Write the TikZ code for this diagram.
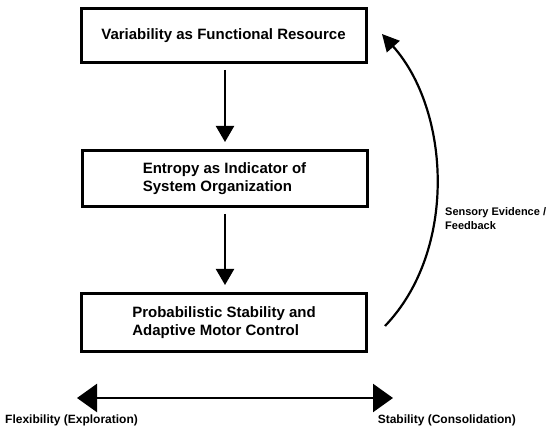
\documentclass[tikz,border=0pt]{standalone}
\usepackage{fontspec}
\setmainfont{Liberation Sans}
\usetikzlibrary{arrows.meta}
\begin{document}
\begin{tikzpicture}[x=1pt,y=-1pt,
  box/.style={draw, line width=3pt, minimum width=285pt, inner sep=0pt, font=\fontsize{15}{17.5}\selectfont\bfseries, align=left},
  flow/.style={line width=2.2pt, -{Triangle[length=16pt,width=18pt]}},
  lbl/.style={font=\fontsize{12}{14}\selectfont\bfseries, inner sep=0pt}]
\useasboundingbox (0,0) rectangle (550,435);
\node[box, minimum height=54pt] (b1) at (223.5,35.5) {Variability as Functional Resource};
\node[box, minimum height=56pt] (b2) at (224.5,178.5) {Entropy as Indicator of\\System Organization};
\node[box, minimum height=58pt] (b3) at (224,322.5) {Probabilistic Stability and\\Adaptive Motor Control};
\draw[flow, shorten <=6pt] (b1.south -| 225,0) -- (225,142);
\draw[flow, shorten <=6pt] (b2.south -| 225,0) -- (225,285);
\coordinate (cs) at (385,326);
\coordinate (ce) at (382,34);
\draw[line width=2.2pt, -{Triangle[length=17pt,width=17pt]}] (cs) .. controls (458,250) and (450,110) .. (ce);
\node[lbl, font=\fontsize{11}{14}\selectfont\bfseries, align=left, anchor=west] (fb) at (445,218.5) {Sensory Evidence /\\Feedback};
\coordinate (al) at (77,398);
\coordinate (ar) at (393,398);
\draw[line width=2.4pt, {Triangle[length=20pt,width=28pt]}-{Triangle[length=20pt,width=28pt]}] (al) -- (ar);
\node[lbl, anchor=west] (fx) at (5,420) {Flexibility (Exploration)};
\node[lbl, anchor=east] (st) at (516,420) {Stability (Consolidation)};
\end{tikzpicture}
\end{document}
